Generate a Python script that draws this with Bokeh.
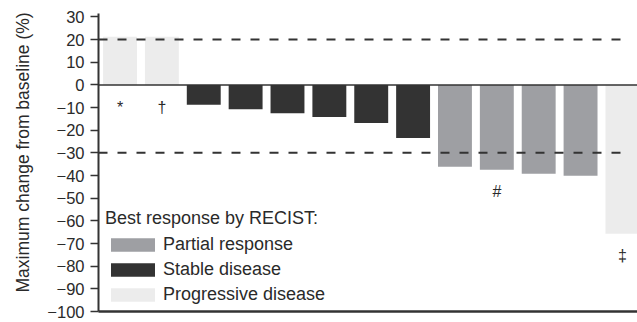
from bokeh.plotting import figure
from bokeh.models import (ColumnDataSource, FixedTicker, Legend, LegendItem,
                          Span, Title, Range1d)
from bokeh.core.properties import value
from bokeh.embed import file_html
from bokeh.resources import INLINE

# ---- data ----
patients = list(range(1, 14))
max_change = [21.2, 21.2, -8.8, -10.7, -12.5, -14.2, -16.8, -23.4,
              -36.1, -37.4, -39.2, -40.1, -65.7]
response = ["PD", "PD", "SD", "SD", "SD", "SD", "SD", "SD",
            "PR", "PR", "PR", "PR", "PD"]
notes = ["*", "†", "", "", "", "", "", "", "", "#", "", "", "‡"]
thresholds = [20, -30]
y_ticks = list(range(-100, 31, 10))
y_tick_labels = [("−" + str(-t)) if t < 0 else str(t) for t in y_ticks]

categories = [("PR", "Partial response", "#9e9fa3"),
              ("SD", "Stable disease", "#333333"),
              ("PD", "Progressive disease", "#ececec")]

FONT = "Liberation Sans"
TXT = "#2a2a2a"

p = figure(width=637, height=322, output_backend="svg", toolbar_location=None,
           x_range=Range1d(0.486, 13.36), y_range=Range1d(-100, 31.5),
           min_border_left=98, min_border_right=0, min_border_top=13,
           min_border_bottom=11)
p.outline_line_color = None
p.background_fill_color = "white"
p.border_fill_color = "white"
p.xgrid.visible = False
p.ygrid.visible = False

# bars, one renderer per response category
renderers = {}
for key, name, color in categories:
    xs = [x for x, r in zip(patients, response) if r == key]
    ys = [v for v, r in zip(max_change, response) if r == key]
    src = ColumnDataSource(dict(x=xs, top=ys))
    renderers[key] = p.vbar(x="x", top="top", bottom=0, width=0.81, source=src,
                            fill_color=color, line_color=None)

# threshold lines (dashed), drawn over bars
for t in thresholds:
    p.segment(x0=[0.486], x1=[len(patients) + 0.15], y0=[t], y1=[t],
              line_color="#333333", line_width=2, line_dash="9 10")

# zero line
p.add_layout(Span(location=0, dimension="width", line_color="#333333",
                  line_width=1.5))

# footnote symbols below bars
nx = [x for x, n in zip(patients, notes) if n]
ny = [min(v, 0) - 9.8 for v, n in zip(max_change, notes) if n]
nt = [n for n in notes if n]
p.text(x=nx, y=ny, text=nt, text_align="center", text_baseline="middle",
       text_font=value(FONT), text_font_size="16px", text_color=TXT)

# axes
p.xaxis.ticker = FixedTicker(ticks=[])
p.xaxis.axis_line_width = 2.5
p.xaxis.axis_line_color = "#333333"
p.xaxis.major_tick_line_color = None
p.xaxis.minor_tick_line_color = None

p.yaxis.ticker = FixedTicker(ticks=y_ticks)
p.yaxis.major_label_overrides = dict(zip(y_ticks, y_tick_labels))
p.yaxis.axis_line_width = 2
p.yaxis.axis_line_color = "#333333"
p.yaxis.major_tick_line_width = 1.5
p.yaxis.major_tick_line_color = "#333333"
p.yaxis.major_tick_out = 8
p.yaxis.major_tick_in = 0
p.yaxis.minor_tick_line_color = None
p.yaxis.major_label_standoff = 6
p.yaxis.major_label_text_font = FONT
p.yaxis.major_label_text_font_size = "16.5px"
p.yaxis.major_label_text_color = TXT

# y axis title (placed a little above the frame centre, as in the reference)
p.add_layout(Title(text="Maximum change from baseline (%)", align="left",
                   vertical_align="middle", offset=19, standoff=22,
                   text_font=FONT, text_font_size="17.5px",
                   text_font_style="normal", text_color=TXT), "left")

# legend
items = [LegendItem(label=name, renderers=[renderers[key]])
         for key, name, color in categories]
legend = Legend(items=items, location=(7, 6), title="Best response by RECIST:",
                title_text_font=FONT, title_text_font_size="18px",
                title_text_font_style="normal", title_text_color=TXT,
                title_standoff=5,
                label_text_font=FONT, label_text_font_size="18px",
                label_text_color=TXT, label_standoff=3,
                glyph_width=55, glyph_height=17, label_height=20, spacing=4,
                padding=0, margin=0, border_line_color=None,
                background_fill_alpha=0)
p.add_layout(legend)

open("out.html", "w").write(file_html(p, INLINE))
